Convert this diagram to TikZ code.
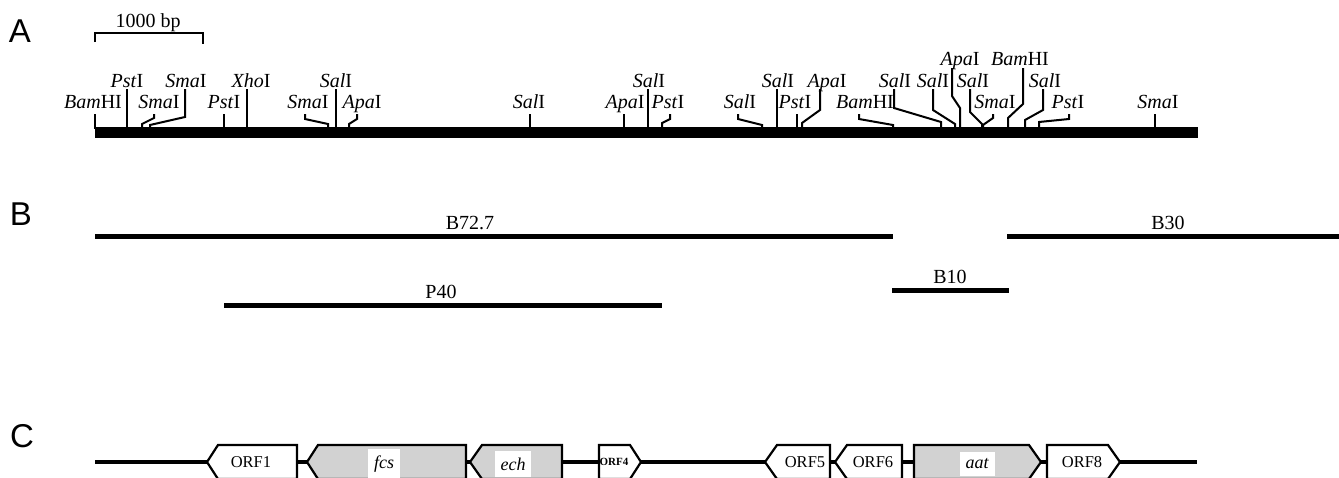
\documentclass[tikz,border=0pt]{standalone}
\usepackage{fontspec}
\setmainfont{Liberation Serif}
\newfontfamily\secfont{Liberation Sans}
\begin{document}
\begin{tikzpicture}[x=1pt,y=-1pt,
  site/.style={font=\fontsize{20}{20}\selectfont, anchor=base, inner sep=0pt},
  tickline/.style={line width=2pt, line join=miter},
  sec/.style={font=\secfont\fontsize{33}{33}\selectfont, inner sep=0pt},
  frag/.style={line width=5.5pt},
  fraglab/.style={font=\fontsize{20}{20}\selectfont, anchor=base, inner sep=0pt},
  gene/.style={draw=black, line width=2.2pt, fill=white, line join=miter},
  known/.style={gene, fill=gray!35},
  orflab/.style={font=\fontsize{16.5}{16.5}\selectfont, inner sep=1pt},
  genelab/.style={font=\itshape\fontsize{18}{18}\selectfont, fill=white, inner xsep=6pt, inner ysep=7pt}
]
\useasboundingbox (0,0) rectangle (1339,477);
\clip (0,0) rectangle (1339,477);

% section letters
\node[sec] (secA) at (20,31) {A};
\node[sec] (secB) at (21,214) {B};
\node[sec] (secC) at (22,436) {C};

% scale bar
\coordinate (sbL) at (95,33);
\coordinate (sbR) at (203,33);
\draw[line width=2pt] ([yshift=-9pt]sbL) -- (sbL) -- (sbR) -- ([yshift=-11pt]sbR);
\node[site] (sbtext) at (148,27) {1000 bp};

% main map bar
\fill (95,127) rectangle (1198,138);

% lower row labels
\node[site] (s1) at (93,108) {\textit{Bam}HI};
\node[site] (s3) at (159,108) {\textit{Sma}I};
\node[site] (s5) at (224,108) {\textit{Pst}I};
\node[site] (s7) at (308,108) {\textit{Sma}I};
\node[site] (s9) at (362,108) {\textit{Apa}I};
\node[site] (s10) at (529,108) {\textit{Sal}I};
\node[site] (s11) at (625,108) {\textit{Apa}I};
\node[site] (s13) at (668,108) {\textit{Pst}I};
\node[site] (s14) at (740,108) {\textit{Sal}I};
\node[site] (s16) at (795,108) {\textit{Pst}I};
\node[site] (s18) at (865,108) {\textit{Bam}HI};
\node[site] (s23) at (995,108) {\textit{Sma}I};
\node[site] (s26) at (1068,108) {\textit{Pst}I};
\node[site] (s27) at (1158,108) {\textit{Sma}I};
% upper row labels
\node[site] (s2) at (127,87) {\textit{Pst}I};
\node[site] (s4) at (186,87) {\textit{Sma}I};
\node[site] (s6) at (251,87) {\textit{Xho}I};
\node[site] (s8) at (336,87) {\textit{Sal}I};
\node[site] (s12) at (649,87) {\textit{Sal}I};
\node[site] (s15) at (778,87) {\textit{Sal}I};
\node[site] (s17) at (827,87) {\textit{Apa}I};
\node[site] (s19) at (895,87) {\textit{Sal}I};
\node[site] (s20) at (933,87) {\textit{Sal}I};
\node[site] (s22) at (973,87) {\textit{Sal}I};
\node[site] (s25) at (1045,87) {\textit{Sal}I};
% top row labels
\node[site] (s21) at (960,65) {\textit{Apa}I};
\node[site] (s24) at (1020,65) {\textit{Bam}HI};

% ticks
\draw[tickline] (95,114) -- (95,129);
\draw[tickline] (127,89) -- (127,129);
\draw[tickline] (154,114) -- (154,118) -- (142,124) -- (142,129);
\draw[tickline] (185,89) -- (185,117) -- (150,125) -- (150,129);
\draw[tickline] (224,114) -- (224,129);
\draw[tickline] (247,89) -- (247,129);
\draw[tickline] (305,114) -- (305,119) -- (328,124) -- (328,129);
\draw[tickline] (336,89) -- (336,129);
\draw[tickline] (357,114) -- (357,119) -- (349,124) -- (349,129);
\draw[tickline] (530,114) -- (530,129);
\draw[tickline] (624,114) -- (624,129);
\draw[tickline] (648,89) -- (648,129);
\draw[tickline] (670,114) -- (670,119) -- (662,123) -- (662,129);
\draw[tickline] (738,114) -- (738,119) -- (762,125) -- (762,129);
\draw[tickline] (777,89) -- (777,129);
\draw[tickline] (797,114) -- (797,129);
\draw[tickline] (820,89) -- (820,110) -- (802,123) -- (802,129);
\draw[tickline] (859,114) -- (859,119) -- (893,125) -- (893,129);
\draw[tickline] (894,89) -- (894,108) -- (941,122) -- (941,129);
\draw[tickline] (933,89) -- (933,110) -- (955,124) -- (955,129);
\draw[tickline] (952,68) -- (952,96) -- (960,108) -- (960,129);
\draw[tickline] (970,89) -- (970,112) -- (982,124) -- (982,129);
\draw[tickline] (993,114) -- (993,118) -- (983,125) -- (983,129);
\draw[tickline] (1023,68) -- (1023,104) -- (1008,118) -- (1008,129);
\draw[tickline] (1043,89) -- (1043,110) -- (1025,120) -- (1025,129);
\draw[tickline] (1069,114) -- (1069,119) -- (1039,122) -- (1039,129);
\draw[tickline] (1155,114) -- (1155,129);

% B: fragments
\coordinate (b72a) at (95,236.5);  \coordinate (b72b) at (893,236.5);
\coordinate (b30a) at (1007,236.5); \coordinate (b30b) at (1339,236.5);
\coordinate (b10a) at (892,290.5); \coordinate (b10b) at (1009,290.5);
\coordinate (p40a) at (224,305.5); \coordinate (p40b) at (662,305.5);
\draw[frag] (b72a) -- (b72b);
\draw[frag] (b30a) -- (b30b);
\draw[frag] (b10a) -- (b10b);
\draw[frag] (p40a) -- (p40b);
\node[fraglab] (lb72) at (470,229) {B72.7};
\node[fraglab] (lb30) at (1168,229) {B30};
\node[fraglab] (lb10) at (950,283) {B10};
\node[fraglab] (lp40) at (441,298) {P40};

% C: gene map
\coordinate (cL) at (95,462);
\coordinate (cR) at (1197,462);
\draw[line width=3.5pt] (cL) -- (cR);
\draw[gene] (207,462) -- (218,445) -- (297,445) -- (297,479) -- (218,479) -- cycle;
\draw[known] (307,462) -- (318,445) -- (466,445) -- (466,479) -- (318,479) -- cycle;
\draw[known] (470,462) -- (482,445) -- (562,445) -- (562,479) -- (482,479) -- cycle;
\draw[gene] (599,445) -- (630,445) -- (641,462) -- (630,479) -- (599,479) -- cycle;
\draw[gene] (765,462) -- (777,445) -- (830,445) -- (830,479) -- (777,479) -- cycle;
\draw[gene] (835,462) -- (847,445) -- (902,445) -- (902,479) -- (847,479) -- cycle;
\draw[known] (914,445) -- (1029,445) -- (1041,462) -- (1029,479) -- (914,479) -- cycle;
\draw[gene] (1047,445) -- (1108,445) -- (1120,462) -- (1108,479) -- (1047,479) -- cycle;

\node[orflab] (orf1) at (251,462) {ORF1};
\node[genelab] (fcs) at (384,464) {fcs};
\node[genelab] (ech) at (513,464) {ech};
\node[orflab, font=\bfseries\fontsize{11}{11}\selectfont, inner sep=0pt] (orf4) at (614,462) {ORF4};
\node[orflab] (orf5) at (805,462) {ORF5};
\node[orflab] (orf6) at (873,462) {ORF6};
\node[genelab] (aat) at (977,464) {aat};
\node[orflab] (orf8) at (1082,462) {ORF8};
\end{tikzpicture}
\end{document}
